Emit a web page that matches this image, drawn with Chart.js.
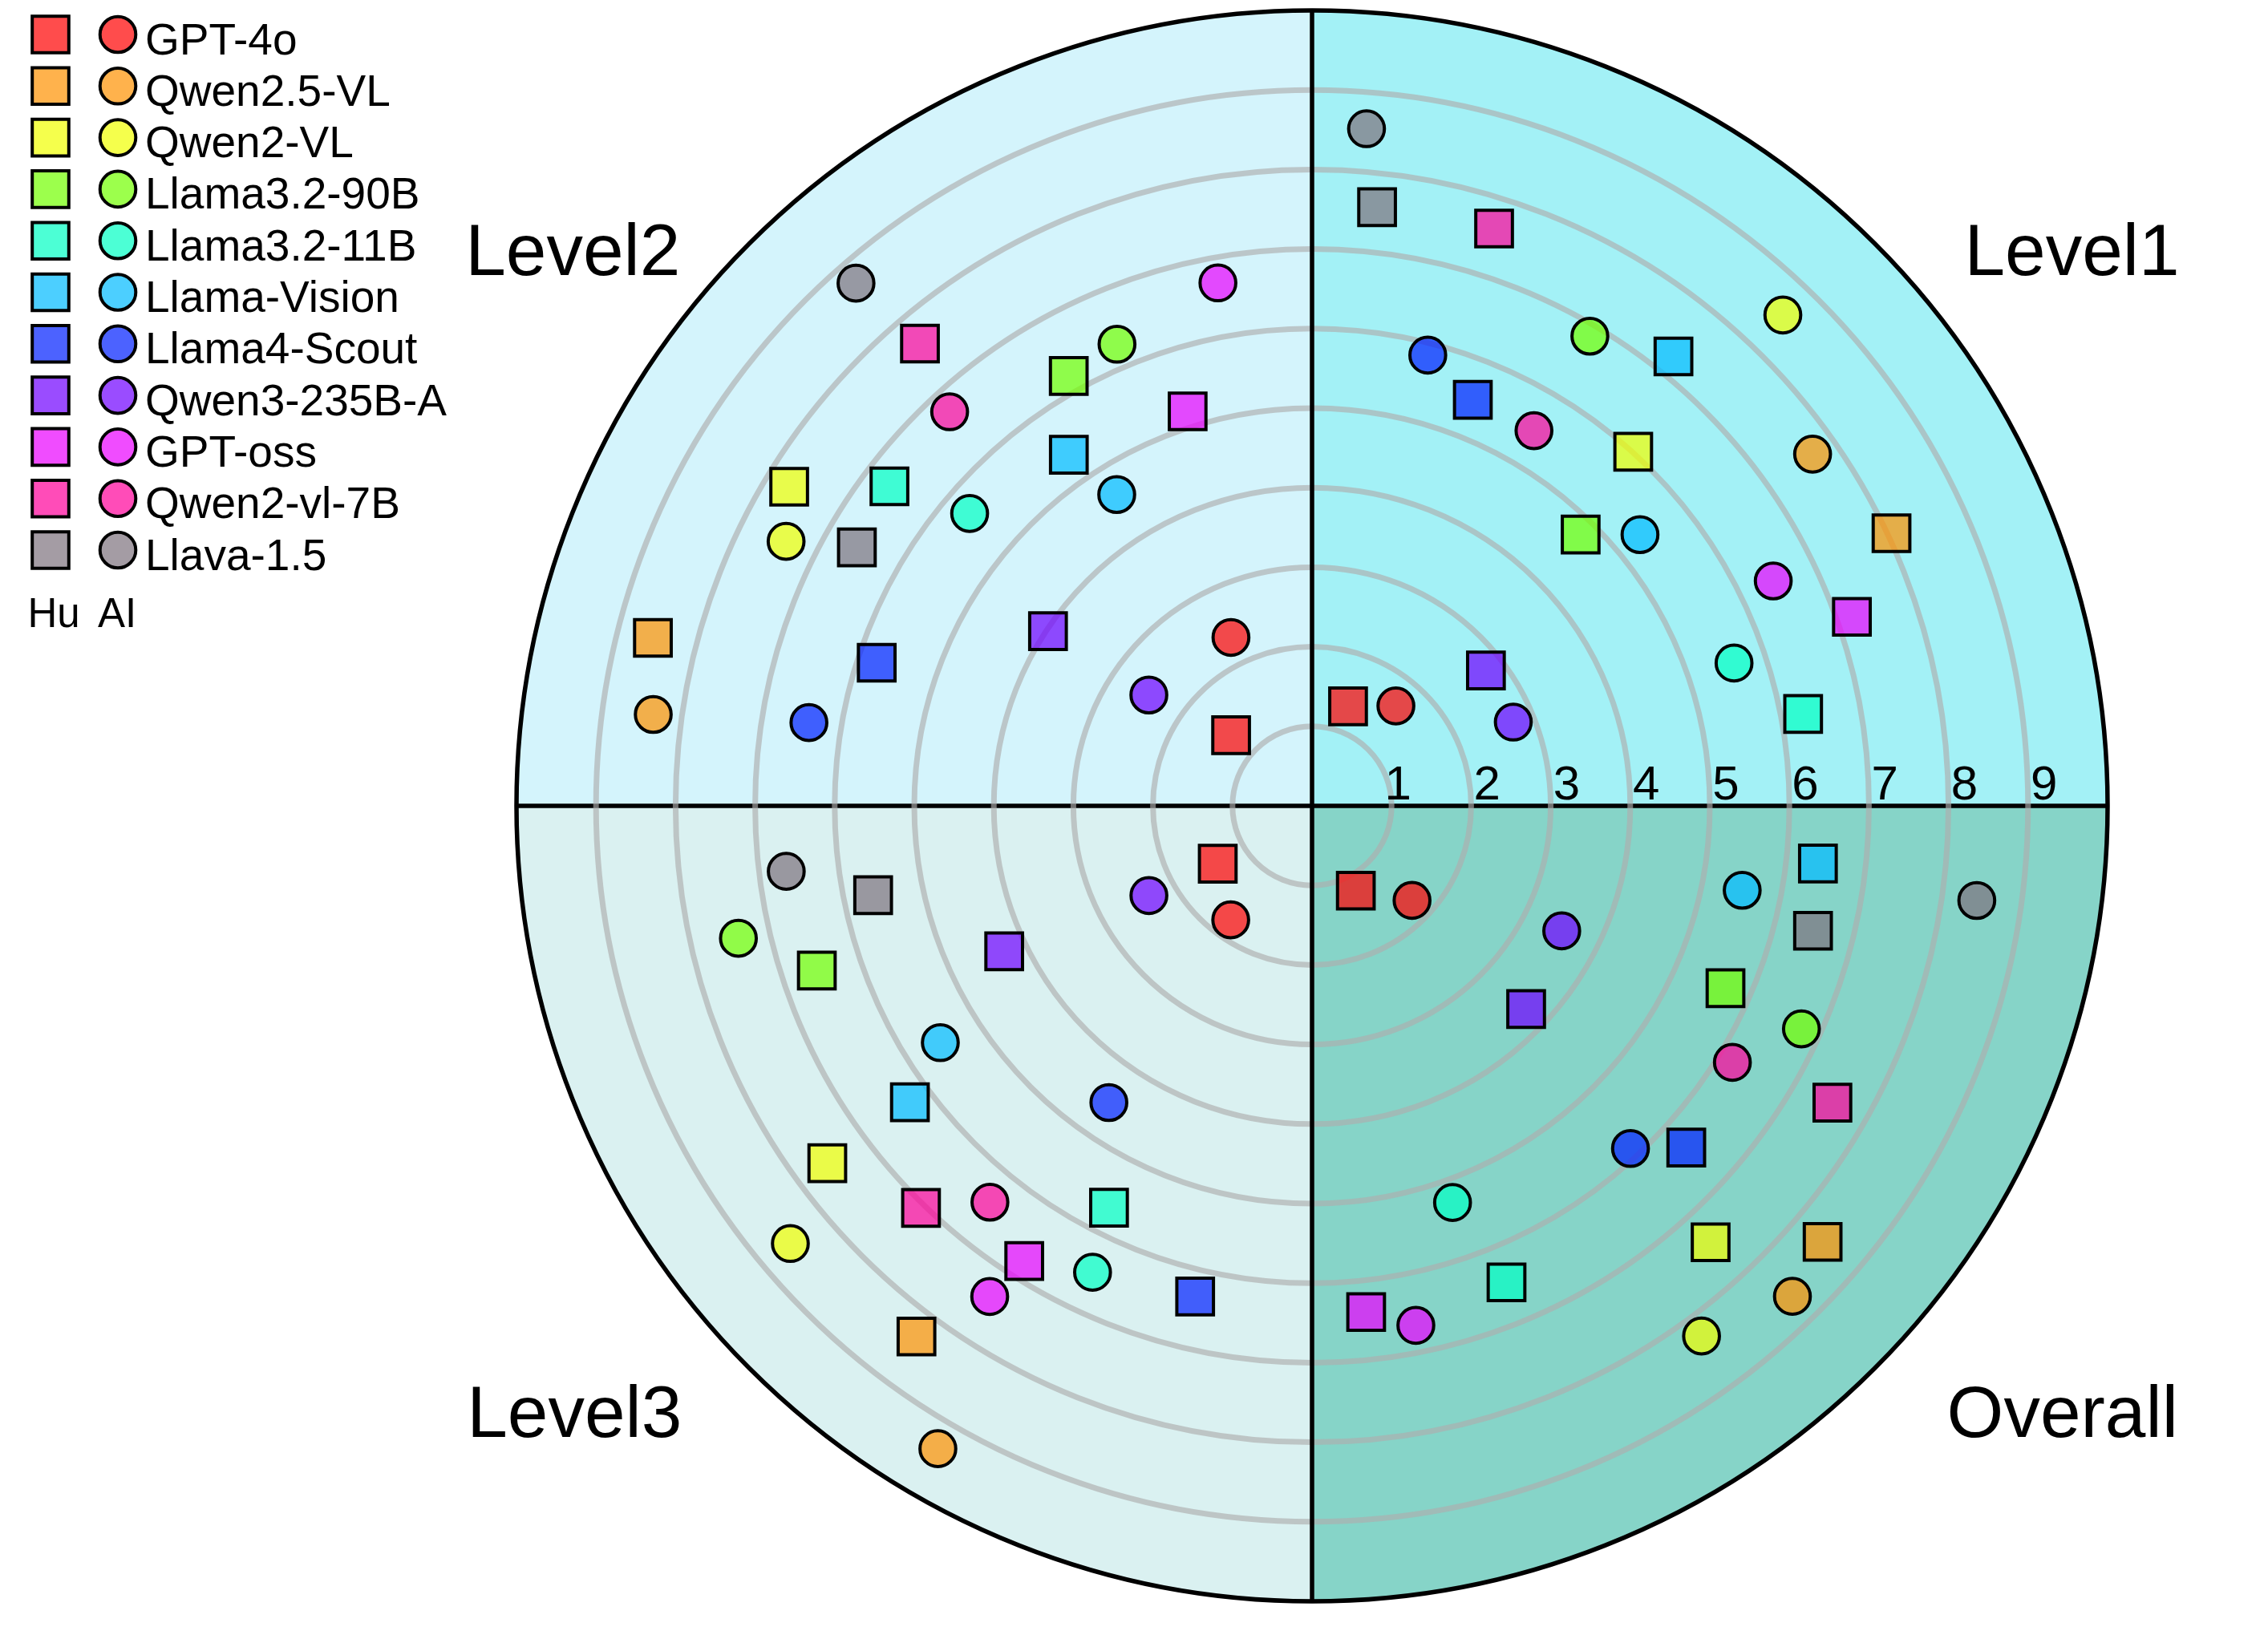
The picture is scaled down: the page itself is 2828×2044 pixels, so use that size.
<!DOCTYPE html>
<html>
<head>
<meta charset="utf-8">
<script src="https://cdn.jsdelivr.net/npm/chart.js@4.4.0/dist/chart.umd.min.js"></script>
<style>
	body { margin: 0; background: #ffffff; }
	canvas { display: block; }
</style>
</head>
<body>
<canvas id="chart1" width="2828" height="2044"></canvas>
<script>
var models = ["GPT-4o", "Qwen2.5-VL", "Qwen2-VL", "Llama3.2-90B", "Llama3.2-11B", "Llama-Vision",
	"Llama4-Scout", "Qwen3-235B-A", "GPT-oss", "Qwen2-vl-7B", "Llava-1.5"];
var modelColors = ["#ff0000", "#ff9200", "#f1ff00", "#72ff00", "#00ffc3", "#00baff",
	"#001fff", "#6f00ff", "#ea00ff", "#ff009a", "#7e727d"];
var levels = ["Level1", "Level2", "Level3", "Overall"];
var ringTicks = [1, 2, 3, 4, 5, 6, 7, 8, 9];

// radius and angle (degrees, counter-clockwise from the right) of every marker
var level1HuR = [1.33, 8.05, 6.01, 4.80, 6.28, 7.25, 5.49, 2.77, 7.19, 7.61, 7.57];
var level1HuA = [70.1, 25.2, 47.8, 45.3, 10.6, 51.2, 68.4, 37.9, 19.3, 72.5, 83.8];
var level1AiR = [1.64, 7.69, 8.55, 6.86, 5.60, 5.35, 5.85, 2.74, 6.45, 5.48, 8.54];
var level1AiA = [50.0, 35.1, 46.2, 59.4, 18.7, 39.6, 75.6, 22.6, 26.0, 59.4, 85.4];

var level2HuR = [1.35, 8.55, 7.70, 6.21, 6.66, 5.37, 5.76, 3.98, 5.20, 7.62, 6.58];
var level2HuA = [138.9, 165.7, 148.6, 119.5, 142.9, 124.7, 161.8, 146.5, 107.5, 130.3, 150.4];
var level2AiR = [2.35, 8.36, 7.40, 6.30, 5.66, 4.62, 6.41, 2.48, 6.68, 6.73, 8.72];
var level2AiA = [115.7, 172.1, 153.3, 112.9, 139.5, 122.1, 170.6, 145.8, 100.2, 132.6, 131.1];

var level3HuR = [1.39, 8.32, 7.57, 6.56, 5.66, 6.28, 6.34, 4.28, 6.77, 7.05, 5.63];
var level3HuA = [211.5, 233.3, 216.4, 198.4, 243.2, 216.4, 256.6, 205.3, 237.7, 225.8, 191.5];
var level3AiR = [1.76, 9.35, 8.56, 7.40, 6.48, 5.54, 4.52, 2.34, 7.38, 6.42, 6.66];
var level3AiA = [234.5, 239.8, 220.0, 193.0, 244.8, 212.5, 235.6, 208.8, 236.7, 230.9, 187.1];

var overallHuR = [1.20, 8.44, 7.43, 5.68, 6.47, 6.40, 6.37, 3.71, 6.40, 7.53, 6.49];
var overallHuA = [297.3, 319.5, 312.4, 336.2, 292.2, 353.5, 317.6, 316.5, 276.1, 330.3, 346.0];
var overallAiR = [1.73, 8.63, 8.27, 6.76, 5.29, 5.51, 5.88, 3.51, 6.66, 6.19, 8.44];
var overallAiA = [316.6, 314.4, 306.3, 335.5, 289.5, 348.9, 312.9, 333.4, 281.3, 328.6, 351.9];

var quadrants = [
	{ hu: [level1HuR, level1HuA], ai: [level1AiR, level1AiA], fill: "#a3f1f6", label: [8.2, 6.67, "left"] },
	{ hu: [level2HuR, level2HuA], ai: [level2AiR, level2AiA], fill: "#d4f4fc", label: [-7.94, 6.67, "right"] },
	{ hu: [level3HuR, level3HuA], ai: [level3AiR, level3AiA], fill: "#daf1f1", label: [-7.92, -7.93, "right"] },
	{ hu: [overallHuR, overallHuA], ai: [overallAiR, overallAiA], fill: "#86d4c8", label: [7.98, -7.93, "left"] }
];

var FONT = "'Liberation Sans', Arial, sans-serif";
var ALPHA = 0.7;

function toPoints(rs, as) {
	return rs.map(function(r, i) {
		var t = as[i] * Math.PI / 180;
		return { x: r * Math.cos(t), y: r * Math.sin(t) };
	});
}

function withAlpha(hex, a) {
	var r = parseInt(hex.substr(1, 2), 16), g = parseInt(hex.substr(3, 2), 16), b = parseInt(hex.substr(5, 2), 16);
	return "rgba(" + r + "," + g + "," + b + "," + a + ")";
}

var markerColors = modelColors.map(function(c) { return withAlpha(c, ALPHA); });

var datasets = [];
quadrants.forEach(function(q, qi) {
	datasets.push({
		label: levels[qi] + " Hu",
		data: toPoints(q.hu[0], q.hu[1]),
		pointStyle: "rect",
		pointRadius: 32.3,
		pointBackgroundColor: markerColors,
		pointBorderColor: "#000000",
		pointBorderWidth: 4,
		showLine: false,
		clip: false
	});
	datasets.push({
		label: levels[qi] + " AI",
		data: toPoints(q.ai[0], q.ai[1]),
		pointStyle: "circle",
		pointRadius: 22.3,
		pointBackgroundColor: markerColors,
		pointBorderColor: "#000000",
		pointBorderWidth: 4,
		showLine: false,
		clip: false
	});
});

var target = {
	id: "target",
	beforeDatasetsDraw: function(chart) {
		var ctx = chart.ctx;
		var xs = chart.scales.x, ys = chart.scales.y;
		var cx = xs.getPixelForValue(0), cy = ys.getPixelForValue(0);
		var unit = xs.getPixelForValue(1) - cx;
		var R = unit * 10;
		ctx.save();
		quadrants.forEach(function(q, qi) {
			ctx.beginPath();
			ctx.moveTo(cx, cy);
			ctx.arc(cx, cy, R, -(qi + 1) * Math.PI / 2, -qi * Math.PI / 2);
			ctx.closePath();
			ctx.fillStyle = q.fill;
			ctx.fill();
		});
		ctx.strokeStyle = "#000000";
		ctx.lineWidth = 5.5;
		ctx.beginPath();
		ctx.moveTo(cx - R, cy);
		ctx.lineTo(cx + R, cy);
		ctx.stroke();

		ctx.strokeStyle = "rgba(174,174,174,0.65)";
		ctx.lineWidth = 7;
		ringTicks.forEach(function(k) {
			ctx.beginPath();
			ctx.arc(cx, cy, unit * k, 0, Math.PI * 2);
			ctx.stroke();
		});

		ctx.strokeStyle = "#000000";
		ctx.lineWidth = 5.5;
		ctx.beginPath();
		ctx.moveTo(cx, cy - R);
		ctx.lineTo(cx, cy + R);
		ctx.stroke();
		ctx.beginPath();
		ctx.arc(cx, cy, R, 0, Math.PI * 2);
		ctx.stroke();
		ctx.restore();
	},
	afterDraw: function(chart) {
		var ctx = chart.ctx;
		var xs = chart.scales.x, ys = chart.scales.y;
		var cy = ys.getPixelForValue(0);
		ctx.save();
		ctx.fillStyle = "#000000";

		// ring numbers along the right axis
		ctx.font = "60px " + FONT;
		ctx.textAlign = "center";
		ctx.textBaseline = "alphabetic";
		ringTicks.forEach(function(k) {
			ctx.fillText(String(k), xs.getPixelForValue(k + (k == 1 ? 0.08 : 0.2)), cy - 8);
		});

		// quadrant names
		ctx.font = "91px " + FONT;
		quadrants.forEach(function(q, qi) {
			ctx.textAlign = q.label[2];
			ctx.fillText(levels[qi], xs.getPixelForValue(q.label[0]), ys.getPixelForValue(q.label[1]));
		});

		// legend: square = Hu, circle = AI
		ctx.font = "55px " + FONT;
		ctx.textAlign = "left";
		ctx.lineWidth = 4;
		ctx.strokeStyle = "#000000";
		models.forEach(function(m, i) {
			var y = 43 + i * 64.3;
			ctx.fillStyle = markerColors[i];
			ctx.beginPath();
			ctx.rect(63 - 22.8, y - 22.8, 45.6, 45.6);
			ctx.fill();
			ctx.stroke();
			ctx.beginPath();
			ctx.arc(147, y, 22.3, 0, Math.PI * 2);
			ctx.fill();
			ctx.stroke();
			ctx.fillStyle = "#000000";
			ctx.fillText(m, 181, y + 24.5);
		});
		ctx.font = "51px " + FONT;
		ctx.textAlign = "center";
		ctx.fillText("Hu", 67, 782);
		ctx.fillText("AI", 146, 782);
		ctx.restore();
	}
};

new Chart(document.getElementById("chart1"), {
	type: "scatter",
	data: { datasets: datasets },
	options: {
		responsive: false,
		devicePixelRatio: 1,
		animation: false,
		events: [],
		layout: { autoPadding: false, padding: { left: 644, right: 200, top: 13, bottom: 47 } },
		scales: {
			x: { type: "linear", min: -10, max: 10, display: false },
			y: { type: "linear", min: -10, max: 10, display: false }
		},
		plugins: {
			legend: { display: false },
			tooltip: { enabled: false },
			title: { display: false }
		}
	},
	plugins: [target]
});
</script>
</body>
</html>
